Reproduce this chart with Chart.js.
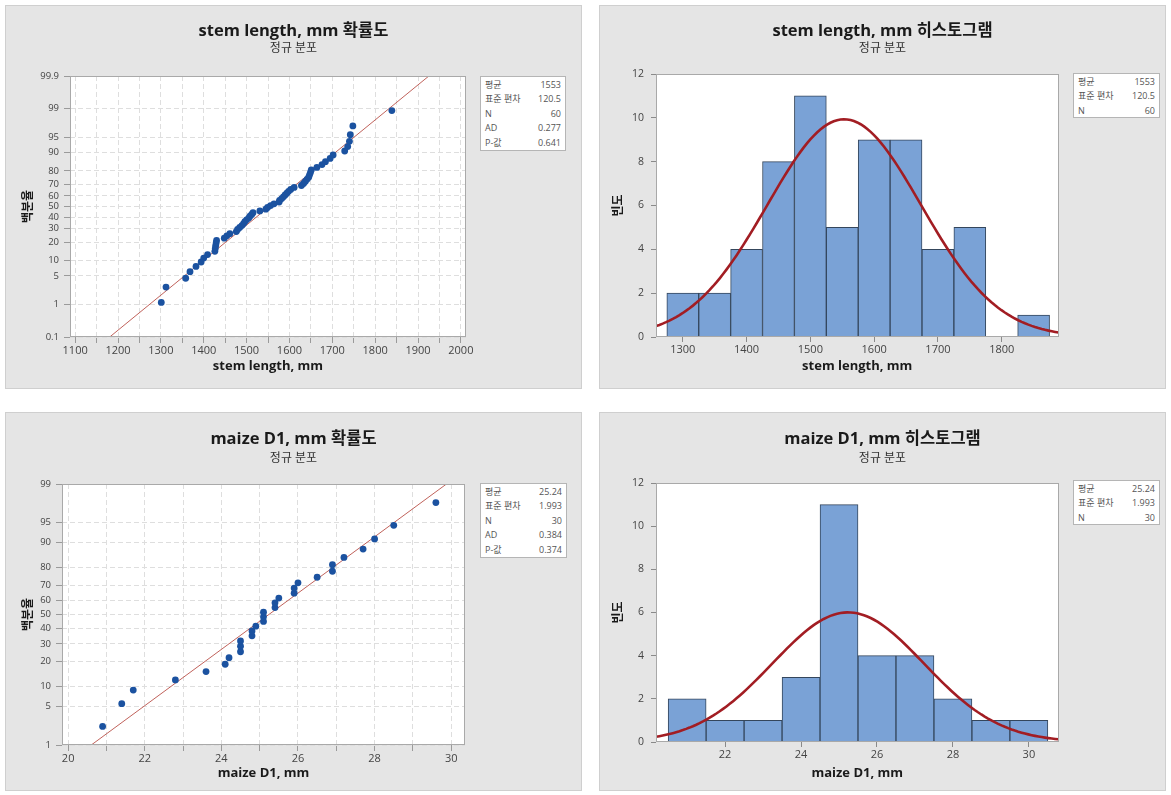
<!DOCTYPE html>
<html>
<head>
<meta charset="utf-8">
<script src="https://cdn.jsdelivr.net/npm/chart.js@4.4.1/dist/chart.umd.min.js"></script>
<style>
body { margin: 0; background: #fff; width: 1171px; height: 795px; position: relative; overflow: hidden;
  font-family: 'Open Sans', 'Noto Sans CJK KR', sans-serif; }
.panel { position: absolute; background: #e5e5e5; box-shadow: inset 0 0 0 1px #cfcfcf; }
.panel canvas { position: absolute; left: 0; top: 0; }
.stats { position: absolute; background: #fff; border: 1px solid #b5b5b5; box-sizing: border-box;
  font-size: 9px; color: #555; padding: 1px 4px; }
.stats div { display: flex; justify-content: space-between; line-height: 14.4px; }
</style>
</head>
<body>
<div class="panel" id="p1" style="left:5px;top:5px;width:577px;height:384px"><canvas id="c1" width="577" height="384"></canvas><div class="stats" id="s1" style="left:475px;top:71px;width:86px;height:75px"></div></div>
<div class="panel" id="p2" style="left:599px;top:5px;width:567px;height:384px"><canvas id="c2" width="567" height="384"></canvas><div class="stats" id="s2" style="left:474px;top:68px;width:87px;height:45px"></div></div>
<div class="panel" id="p3" style="left:5px;top:412px;width:577px;height:379px"><canvas id="c3" width="577" height="379"></canvas><div class="stats" id="s3" style="left:475px;top:71px;width:87px;height:75px"></div></div>
<div class="panel" id="p4" style="left:599px;top:412px;width:567px;height:379px"><canvas id="c4" width="567" height="379"></canvas><div class="stats" id="s4" style="left:474px;top:68px;width:87px;height:45px"></div></div>

<script>
// ---- stem length, mm (sorted sample) ----
const STEM_VALUES = [1301, 1312, 1358, 1368, 1382, 1394, 1400, 1409, 1426, 1427,
  1428, 1429, 1430, 1448, 1454, 1461, 1476, 1479, 1484, 1489,
  1493, 1496, 1500, 1505, 1508, 1512, 1515, 1531, 1545, 1549,
  1556, 1564, 1576, 1577, 1582, 1586, 1590, 1594, 1598, 1603,
  1611, 1628, 1633, 1637, 1641, 1645, 1647, 1649, 1651, 1664,
  1676, 1684, 1695, 1702, 1729, 1736, 1740, 1742, 1748, 1839];
const STEM_MEAN = 1553;
const STEM_SD = 120.5;
const STEM_PCT_TICKS = [0.1, 1, 5, 10, 20, 30, 40, 50, 60, 70, 80, 90, 95, 99, 99.9];
const STEM_BIN_MIDS = [1300, 1350, 1400, 1450, 1500, 1550, 1600, 1650, 1700, 1750, 1800, 1850];
const STEM_BIN_COUNTS = [2, 2, 4, 8, 11, 5, 9, 9, 4, 5, 0, 1];
const STEM_BIN_WIDTH = 50;
const STEM_PROB_LABELS = ['평균', '표준 편차', 'N', 'AD', 'P-값'];
const STEM_PROB_VALUES = ['1553', '120.5', '60', '0.277', '0.641'];

// ---- maize D1, mm ----
const MAIZE_VALUES = [20.9, 21.4, 21.7, 22.8, 23.6, 24.1, 24.2, 24.5, 24.5, 24.5,
  24.8, 24.8, 24.9, 25.1, 25.1, 25.1, 25.4, 25.4, 25.5, 25.9,
  25.9, 26.0, 26.5, 26.9, 26.9, 27.2, 27.7, 28.0, 28.5, 29.6];
const MAIZE_MEAN = 25.24;
const MAIZE_SD = 1.993;
const MAIZE_PCT_TICKS = [1, 5, 10, 20, 30, 40, 50, 60, 70, 80, 90, 95, 99];
const MAIZE_BIN_MIDS = [21, 22, 23, 24, 25, 26, 27, 28, 29, 30];
const MAIZE_BIN_COUNTS = [2, 1, 1, 3, 11, 4, 4, 2, 1, 1];
const MAIZE_BIN_WIDTH = 1;
const MAIZE_PROB_LABELS = ['평균', '표준 편차', 'N', 'AD', 'P-값'];
const MAIZE_PROB_VALUES = ['25.24', '1.993', '30', '0.384', '0.374'];

const FONT = "'Open Sans', 'Noto Sans CJK KR', sans-serif";
Chart.defaults.font.family = FONT;
Chart.defaults.color = '#3c3c3c';

const TITLE_SIZE = 16.5;
const SUB_SIZE = 12;

// inverse normal cdf (Acklam)
function normInv(p) {
  const a = [-39.69683028665376, 220.9460984245205, -275.9285104469687, 138.3577518672690, -30.66479806614716, 2.506628277459239];
  const b = [-54.47609879822406, 161.5858368580409, -155.6989798598866, 66.80131188771972, -13.28068155288572];
  const c = [-0.007784894002430293, -0.3223964580411365, -2.400758277161838, -2.549732539343734, 4.374664141464968, 2.938163982698783];
  const d = [0.007784695709041462, 0.3224671290700398, 2.445134137142996, 3.754408661907416];
  const pl = 0.02425;
  if (p < pl) {
    const q = Math.sqrt(-2 * Math.log(p));
    return (((((c[0]*q+c[1])*q+c[2])*q+c[3])*q+c[4])*q+c[5]) / ((((d[0]*q+d[1])*q+d[2])*q+d[3])*q+1);
  }
  if (p > 1 - pl) {
    const q = Math.sqrt(-2 * Math.log(1 - p));
    return -(((((c[0]*q+c[1])*q+c[2])*q+c[3])*q+c[4])*q+c[5]) / ((((d[0]*q+d[1])*q+d[2])*q+d[3])*q+1);
  }
  const q = p - 0.5, r = q * q;
  return (((((a[0]*r+a[1])*r+a[2])*r+a[3])*r+a[4])*r+a[5])*q / (((((b[0]*r+b[1])*r+b[2])*r+b[3])*r+b[4])*r+1);
}
function normCdf(z) {
  const t = 1 / (1 + 0.3275911 * Math.abs(z) / Math.SQRT2);
  const e = 1 - (((((1.061405429*t - 1.453152027)*t) + 1.421413741)*t - 0.284496736)*t + 0.254829592)*t*Math.exp(-z*z/2);
  return 0.5 * (1 + (z >= 0 ? e : -e));
}

// probability (probit) axis: percent values placed by their normal score
class ProbitScale extends Chart.Scale {
  determineDataLimits() { this.min = this.options.min; this.max = this.options.max; }
  buildTicks() { return []; }
  getLabelForValue(v) { return String(v); }
  configure() {
    super.configure();
    this._z0 = normInv(this.min / 100);
    this._z1 = normInv(this.max / 100);
  }
  getPixelForValue(v) {
    return this.getPixelForDecimal((normInv(v / 100) - this._z0) / (this._z1 - this._z0));
  }
  getValueForPixel(px) {
    return normCdf(this._z0 + this.getDecimalForPixel(px) * (this._z1 - this._z0)) * 100;
  }
}
ProbitScale.id = 'probit';
ProbitScale.defaults = {};
Chart.register(ProbitScale);

// white plot area + frame
const plotFrame = {
  id: 'plotFrame',
  beforeDraw(chart) {
    const { ctx, chartArea: a } = chart;
    ctx.save(); ctx.fillStyle = '#fff'; ctx.fillRect(a.left, a.top, a.width, a.height); ctx.restore();
  },
  afterDraw(chart) {
    const { ctx, chartArea: a } = chart;
    ctx.save(); ctx.strokeStyle = '#a9a9a9'; ctx.lineWidth = 1;
    ctx.strokeRect(Math.round(a.left) + 0.5, Math.round(a.top) + 0.5, Math.round(a.width) - 1, Math.round(a.height) - 1);
    ctx.restore();
  }
};

function fillStats(id, labels, values) {
  document.getElementById(id).innerHTML = labels.map((l, i) =>
    '<div><span>' + l + '</span><span>' + values[i] + '</span></div>').join('');
}

// geometry helper: g = {w,h,left,right,top,bottom,titleY,subGap,xTitleY,yTitlePad}
function baseOptions(g, title, xTitle, yTitle) {
  const tl = TITLE_SIZE * 1.2, sl = SUB_SIZE * 1.2;
  const tt = g.titleY - tl / 2;
  const sb = g.top - (tt + tl + g.subGap + sl);
  const pb = g.h - (g.xTitleY + 7.8);
  const xh = g.h - pb - g.bottom;
  return {
    responsive: false, animation: false, events: [],
    layout: { padding: { left: 0, right: 0, top: 0, bottom: pb } },
    plugins: {
      legend: { display: false }, tooltip: { enabled: false },
      title: { display: true, text: title, color: '#1a1a1a', font: { size: TITLE_SIZE, weight: 'bold' }, padding: { top: tt, bottom: 0 } },
      subtitle: { display: true, text: '정규 분포', color: '#333', font: { size: SUB_SIZE }, padding: { top: g.subGap, bottom: sb } }
    },
    scales: {
      x: {
        type: 'linear', afterFit: s => { s.height = xh; },
        title: { display: true, text: xTitle, color: '#1a1a1a', font: { size: 13, weight: 'bold' }, padding: 0 }
      },
      y: {
        afterFit: s => { s.width = g.left; },
        title: { display: true, text: yTitle, color: '#1a1a1a', font: { size: 12, weight: 'bold' }, padding: { top: g.yTitlePad, bottom: 0 } }
      },
      pad: {
        type: 'linear', position: 'right', display: true,
        grid: { display: false }, ticks: { display: false }, border: { display: false },
        afterFit: s => { s.width = g.w - g.right; }
      }
    }
  };
}

function probPlot(canvasId, g, title, xTitle, values, mean, sd, pctTicks, xMin, xMax, xStep, xLabelEvery) {
  const n = values.length;
  // median-rank plotting positions, as Minitab uses
  const points = values.map((v, i) => ({ x: v, y: (i + 1 - 0.3) / (n + 0.4) * 100 }));
  const pLo = pctTicks[0], pHi = pctTicks[pctTicks.length - 1];
  const fit = [{ x: mean + normInv(pLo / 100) * sd, y: pLo }, { x: mean + normInv(pHi / 100) * sd, y: pHi }];
  const opt = baseOptions(g, title, xTitle, '백분율');
  const gridStyle = { color: '#dedede', tickLength: 6, tickColor: '#9a9a9a' };
  Object.assign(opt.scales.x, {
    min: xMin, max: xMax,
    grid: gridStyle, border: { display: false, dash: [5, 3] },
    ticks: {
      stepSize: xStep, includeBounds: false, autoSkip: false, maxRotation: 0, padding: 1,
      font: { size: 11 }, color: '#444',
      callback: v => Math.abs(v / xLabelEvery - Math.round(v / xLabelEvery)) < 1e-6 ? String(Math.round(v)) : ''
    }
  });
  Object.assign(opt.scales.y, {
    type: 'probit', min: pLo, max: pHi,
    afterBuildTicks: s => { s.ticks = pctTicks.map(v => ({ value: v })); },
    grid: gridStyle, border: { display: false, dash: [5, 3] },
    ticks: { autoSkip: false, font: { size: 9.5 }, color: '#444', padding: 5 }
  });
  return new Chart(document.getElementById(canvasId), {
    type: 'scatter',
    data: {
      datasets: [
        { type: 'line', data: fit, borderColor: '#c0625b', borderWidth: 1, pointRadius: 0, order: 1 },
        { data: points, pointRadius: 3.4, backgroundColor: '#1b52a0', borderColor: '#1b52a0', borderWidth: 0, order: 0 }
      ]
    },
    options: opt,
    plugins: [plotFrame]
  });
}

function histogram(canvasId, g, title, xTitle, mids, counts, binWidth, n, mean, sd, xMin, xMax, xStep) {
  const bars = mids.map((m, i) => ({ x: m, y: counts[i] }));
  // fitted normal curve scaled to counts
  const curve = [];
  for (let k = 0; k <= 120; k++) {
    const x = xMin + (xMax - xMin) * k / 120;
    const z = (x - mean) / sd;
    curve.push({ x: x, y: n * binWidth * Math.exp(-z * z / 2) / (sd * Math.sqrt(2 * Math.PI)) });
  }
  const opt = baseOptions(g, title, xTitle, '빈도');
  const tickGrid = { display: true, drawOnChartArea: false, offset: false, tickLength: 5, color: '#8a8a8a' };
  Object.assign(opt.scales.x, {
    min: xMin, max: xMax, offset: false, grid: tickGrid, border: { display: false },
    ticks: { stepSize: xStep, includeBounds: false, autoSkip: false, maxRotation: 0, padding: 1, font: { size: 11 }, color: '#444',
      callback: v => String(v) }
  });
  Object.assign(opt.scales.y, {
    type: 'linear', min: 0, max: 12, grid: tickGrid, border: { display: false },
    ticks: { stepSize: 2, font: { size: 10.5 }, color: '#444', padding: 7 }
  });
  return new Chart(document.getElementById(canvasId), {
    type: 'bar',
    data: {
      datasets: [
        { type: 'line', data: curve, borderColor: '#a21d23', borderWidth: 2.6, pointRadius: 0, tension: 0, order: 0 },
        { type: 'bar', data: bars, backgroundColor: '#7aa2d6', borderColor: '#34465c', borderWidth: 1,
          barPercentage: 1, categoryPercentage: 1, order: 1 }
      ]
    },
    options: opt,
    plugins: [plotFrame]
  });
}

probPlot('c1', { w: 577, h: 384, left: 65, right: 461, top: 71, bottom: 332, titleY: 26, subGap: 0, xTitleY: 361, yTitlePad: 16 },
  'stem length, mm 확률도', 'stem length, mm', STEM_VALUES, STEM_MEAN, STEM_SD, STEM_PCT_TICKS, 1088, 2012, 50, 100);
histogram('c2', { w: 567, h: 384, left: 57, right: 459.5, top: 69, bottom: 332, titleY: 26, subGap: 0, xTitleY: 361, yTitlePad: 12 },
  'stem length, mm 히스토그램', 'stem length, mm', STEM_BIN_MIDS, STEM_BIN_COUNTS, STEM_BIN_WIDTH,
  STEM_VALUES.length, STEM_MEAN, STEM_SD, 1258, 1889, 100);
probPlot('c3', { w: 577, h: 379, left: 57, right: 460, top: 72, bottom: 333, titleY: 27, subGap: 2, xTitleY: 361, yTitlePad: 16 },
  'maize D1, mm 확률도', 'maize D1, mm', MAIZE_VALUES, MAIZE_MEAN, MAIZE_SD, MAIZE_PCT_TICKS, 19.84, 30.36, 1, 2);
histogram('c4', { w: 567, h: 379, left: 57, right: 459.5, top: 71, bottom: 330, titleY: 27, subGap: 2, xTitleY: 361, yTitlePad: 12 },
  'maize D1, mm 히스토그램', 'maize D1, mm', MAIZE_BIN_MIDS, MAIZE_BIN_COUNTS, MAIZE_BIN_WIDTH,
  MAIZE_VALUES.length, MAIZE_MEAN, MAIZE_SD, 20.18, 30.78, 2);

fillStats('s1', STEM_PROB_LABELS, STEM_PROB_VALUES);
fillStats('s2', STEM_PROB_LABELS.slice(0, 3), STEM_PROB_VALUES.slice(0, 3));
fillStats('s3', MAIZE_PROB_LABELS, MAIZE_PROB_VALUES);
fillStats('s4', MAIZE_PROB_LABELS.slice(0, 3), MAIZE_PROB_VALUES.slice(0, 3));
</script>
</body>
</html>
